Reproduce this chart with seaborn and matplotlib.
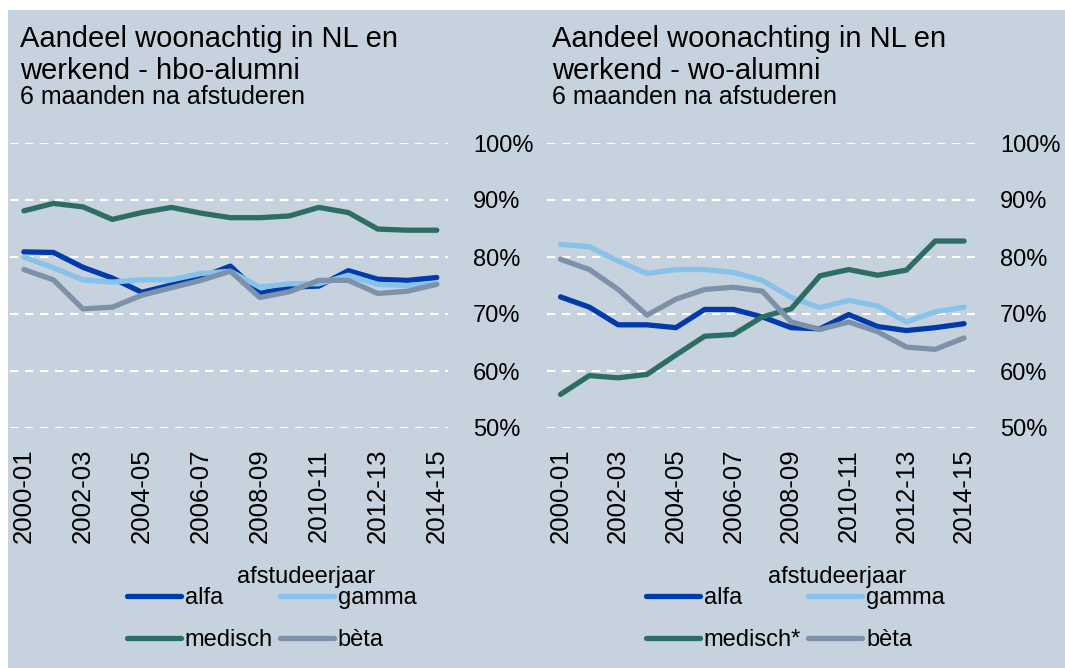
import matplotlib
matplotlib.use("Agg")
import matplotlib.pyplot as plt
import seaborn as sns
import pandas as pd
from matplotlib.patches import Rectangle
from matplotlib.lines import Line2D
from matplotlib.ticker import FuncFormatter

# ---------------- data ----------------
years = ["2000-01", "2001-02", "2002-03", "2003-04", "2004-05", "2005-06",
         "2006-07", "2007-08", "2008-09", "2009-10", "2010-11", "2011-12",
         "2012-13", "2013-14", "2014-15"]
tick_labels = years[::2]

hbo_alfa = [80.9, 80.8, 78.2, 76.3, 73.8, 75.1, 76.4, 78.4, 73.6, 74.7, 74.9, 77.6, 76.1, 75.9, 76.4]
hbo_gamma = [80.0, 78.1, 76.0, 75.6, 76.0, 76.0, 77.1, 77.5, 74.7, 75.3, 75.3, 76.8, 75.2, 75.0, 75.3]
hbo_medisch = [88.1, 89.4, 88.8, 86.6, 87.8, 88.7, 87.7, 86.9, 86.9, 87.2, 88.7, 87.8, 84.9, 84.7, 84.7]
hbo_beta = [77.8, 76.0, 70.9, 71.2, 73.3, 74.6, 75.9, 77.5, 72.9, 73.9, 75.9, 75.9, 73.6, 74.0, 75.2]

wo_alfa = [73.0, 71.2, 68.1, 68.1, 67.6, 70.8, 70.8, 69.5, 67.6, 67.4, 69.9, 67.8, 67.1, 67.6, 68.3]
wo_gamma = [82.2, 81.8, 79.3, 77.1, 77.8, 77.8, 77.3, 75.9, 72.9, 71.1, 72.4, 71.4, 68.6, 70.4, 71.2]
wo_medisch = [55.9, 59.2, 58.8, 59.4, 62.8, 66.1, 66.4, 69.5, 70.9, 76.7, 77.8, 76.8, 77.7, 82.8, 82.8]
wo_beta = [79.6, 77.8, 74.3, 69.8, 72.6, 74.3, 74.7, 74.0, 68.6, 67.3, 68.6, 66.9, 64.2, 63.8, 65.8]

hbo_names = ["alfa", "gamma", "medisch", "bèta"]
wo_names = ["alfa", "gamma", "medisch*", "bèta"]

hbo_title = "Aandeel woonachtig in NL en\nwerkend - hbo-alumni"
wo_title = "Aandeel woonachting in NL en\nwerkend - wo-alumni"
subtitle = "6 maanden na afstuderen"
xlabel = "afstudeerjaar"

colors = ["#003AAB", "#86C2EA", "#2D6E64", "#7D91A8"]
BG = "#C6D2DE"

# ---------------- style ----------------
sns.set_style("white")
plt.rcParams["font.family"] = ["Liberation Sans", "DejaVu Sans"]
plt.rcParams["text.color"] = "black"
plt.rcParams["axes.labelcolor"] = "black"
plt.rcParams["xtick.color"] = "black"
plt.rcParams["ytick.color"] = "black"

W, H = 1065, 668
fig = plt.figure(figsize=(W / 100, H / 100), dpi=100, facecolor="white")
fig.patches.append(Rectangle((8 / W, 0), 1 - 8 / W, (H - 10) / H,
                             transform=fig.transFigure, facecolor=BG,
                             edgecolor="none", zorder=-10))


def px_axes(x0, x1, ytop, ybot):
    return fig.add_axes([x0 / W, (H - ybot) / H, (x1 - x0) / W, (ybot - ytop) / H])


def make_df(series, names):
    rows = []
    for name, vals in zip(names, series):
        for i, v in enumerate(vals):
            rows.append({"idx": i, "jaar": years[i], "waarde": v, "studie": name})
    return pd.DataFrame(rows)


def draw(ax, series, names, title, title_x, legend_x):
    df = make_df(series, names)
    pal = dict(zip(names, colors))
    sns.lineplot(data=df, x="idx", y="waarde", hue="studie", hue_order=names,
                 palette=pal, linewidth=3.8, ax=ax, legend=False,
                 solid_capstyle="round", solid_joinstyle="round")
    ax.set_facecolor("none")
    for s in ax.spines.values():
        s.set_visible(False)
    ax.set_ylim(50, 100)
    ax.set_xlim(-0.47, 14.38)
    ax.set_yticks(range(50, 101, 10))
    ax.yaxis.set_major_formatter(FuncFormatter(lambda v, p: f"{v:.0f}%"))
    ax.yaxis.tick_right()
    ax.set_ylabel("")
    ax.set_xticks(range(0, len(years), 2))
    ax.set_xticklabels(tick_labels, rotation=90)
    ax.tick_params(axis="both", length=0, colors="black")
    ax.tick_params(axis="y", pad=18, labelsize=17)
    ax.tick_params(axis="x", pad=15, labelsize=18.5)
    ax.grid(False)
    for v in range(50, 101, 10):
        ax.axhline(v, color="white", lw=1.5, linestyle=(0, (4, 3.2)), zorder=0)
    ax.set_xlabel(xlabel, fontsize=17, va="baseline", color="black")
    ax.xaxis.set_label_coords(0.677, -0.545)

    t1, t2 = title.split("\n")
    fig.text(title_x / W, (H - 47) / H, t1, fontsize=21, va="baseline", color="black")
    fig.text(title_x / W, (H - 79) / H, t2, fontsize=21, va="baseline", color="black")
    fig.text(title_x / W, (H - 104) / H, subtitle, fontsize=18, va="baseline", color="black")

    handles = [Line2D([0], [0], color=colors[i], lw=3.8, solid_capstyle="round")
               for i in range(4)]
    order = [0, 2, 1, 3]
    leg = ax.legend([handles[i] for i in order], [names[i] for i in order],
                    ncol=2, frameon=False, fontsize=17, loc="center left",
                    bbox_to_anchor=(legend_x / W, (H - 619.3) / H),
                    bbox_transform=fig.transFigure, borderpad=0, borderaxespad=0,
                    handlelength=2.3, handletextpad=0.15, columnspacing=0.3,
                    labelspacing=0.85)
    for t in leg.get_texts():
        t.set_color("black")


ax1 = px_axes(10, 448, 143, 428)
draw(ax1, [hbo_alfa, hbo_gamma, hbo_medisch, hbo_beta], hbo_names, hbo_title, 20, 127)

ax2 = px_axes(547, 975, 143, 428)
draw(ax2, [wo_alfa, wo_gamma, wo_medisch, wo_beta], wo_names, wo_title, 552, 646)

fig.savefig("out.png", dpi=100, facecolor="white")
